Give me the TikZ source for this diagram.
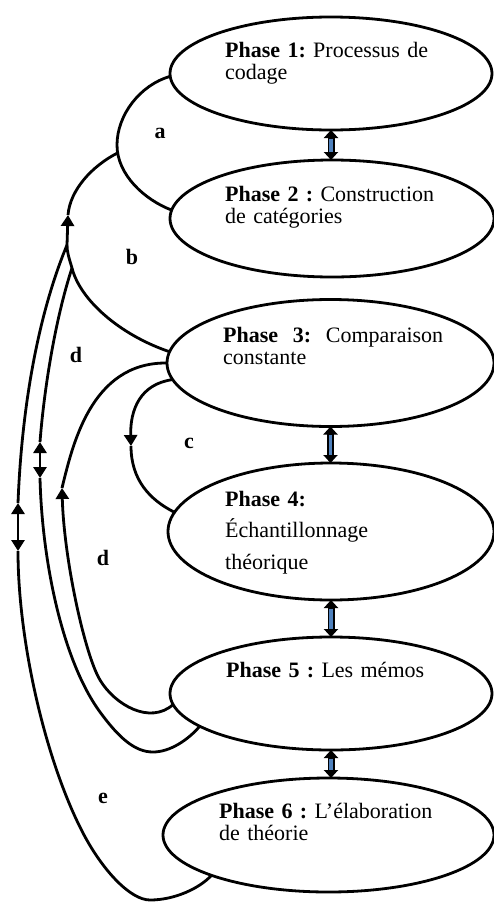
\documentclass[tikz,border=0pt]{standalone}
\usepackage{fontspec}
\setmainfont{Liberation Serif}
\usetikzlibrary{arrows.meta,shapes.geometric}
\definecolor{shaftblue}{RGB}{79,129,189}
\frenchspacing
\begin{document}
\begin{tikzpicture}[x=1pt,y=-1pt,
  phase/.style={draw, ellipse, line width=2.8pt, inner sep=0pt, outer sep=0pt},
  phasetext/.style={anchor=base west, inner sep=0pt, align=left, text width=270pt,
    font=\fontsize{22}{22.5}\selectfont},
  tag/.style={inner sep=0pt, font=\fontsize{22}{22}\selectfont\bfseries},
  link/.style={line width=2.8pt},
  head/.style={-{Triangle[width=13pt,length=11pt]}},
  blockline/.style={line width=7pt, {Triangle[width=14pt,length=8pt]}-{Triangle[width=14pt,length=8pt]}},
  blockfill/.style={line width=3.4pt, shaftblue, shorten <=8.5pt, shorten >=8.5pt}]
\useasboundingbox (0,0) rectangle (494,903);

% the six phases
\node[phase, minimum width=322pt, minimum height=113pt] (e1) at (331,73.5) {};
\node[phase, minimum width=324pt, minimum height=117pt] (e2) at (332,218.5) {};
\node[phase, minimum width=327pt, minimum height=127pt] (e3) at (330.5,363) {};
\node[phase, minimum width=326pt, minimum height=137pt] (e4) at (331,531.5) {};
\node[phase, minimum width=322pt, minimum height=113pt] (e5) at (331,693.5) {};
\node[phase, minimum width=331pt, minimum height=114pt] (e6) at (328.5,835) {};

\node[phasetext] (t1) at (225,57) {\textbf{Phase 1:} Processus de\\codage};
\node[phasetext] (t2) at (225,201) {\textbf{Phase 2 :} Construction\\de catégories};
\node[phasetext] (t3) at (223,342) {\makebox[220pt][l]{\textbf{Phase}\hfill\textbf{3:}\hfill Comparaison}\\constante};
\node[phasetext] (t4) at (225,506) {\textbf{Phase 4:}\\[9pt]Échantillonnage\\[9pt]théorique};
\node[phasetext] (t5) at (226,677) {\textbf{Phase 5 :} Les mémos};
\node[phasetext] (t6) at (219,818) {\textbf{Phase 6 :} L’élaboration\\de théorie};

% block arrows between consecutive phases
\foreach \u/\v in {e1/e2, e3/e4, e4/e5, e5/e6} {
  \draw[blockline] (\u.south) -- (\u.south |- \v.north);
  \draw[blockfill] (\u.south) -- (\u.south |- \v.north);
}

% junctions and arrow positions on the feedback loops
\coordinate (J1) at (117.5,153);
\coordinate (J2) at (67,245);
\coordinate (J3) at (72,268);
\coordinate (tA) at (68,215);
\coordinate (oU) at (18,503);
\coordinate (oM) at (18,527);
\coordinate (oD) at (18,551);
\coordinate (mU) at (40,442);
\coordinate (mM) at (40,460);
\coordinate (mD) at (40,478);
\coordinate (iA) at (62,488);
\coordinate (cA) at (131,446);

% a : phases 1 and 2
\draw[link] (e1.181) .. controls (140,85) and (117,115) .. (117,145)
  .. controls (117,175) and (145,200) .. (e2.177);

% common trunk back to loop a
\draw[link, head] (J2) -- (tA);
\draw[link] (tA) .. controls (70,190) and (92,166) .. (J1);

% b : phase 3 into the trunk
\draw[link] (e3.176) .. controls (120,335) and (80,300) .. (J3)
  .. controls (69,258) and (67,252) .. (J2);

% e : outer loop from phase 6
\draw[link, head] (oM) -- (oU);
\draw[link, head] (oM) -- (oD);
\draw[link] (oU) .. controls (22,400) and (40,310) .. (J2);
\draw[link] (oD) .. controls (18,640) and (45,760) .. (83,833)
  .. controls (102,869.5) and (130,900) .. (150,900)
  .. controls (175,900) and (200,888) .. (e6.199);

% d : middle loop from phase 5
\draw[link, head] (mM) -- (mU);
\draw[link, head] (mM) -- (mD);
\draw[link] (mU) .. controls (44,390) and (55,320) .. (J3);
\draw[link] (mD) .. controls (42,560) and (62,660) .. (100,712)
  .. controls (119,738) and (135,752) .. (153,752)
  .. controls (170,752) and (188,740) .. (e5.194);

% d : inner loop from phase 5 to phase 3
\draw[link, head] (e5.184) .. controls (150,725) and (115,705) .. (100,680)
  .. controls (85,655) and (64,560) .. (iA);
\draw[link] (iA) .. controls (72,448) and (90,362) .. (e3.180);

% c : phase 3 to phase 4
\draw[link, head] (e3.186) .. controls (140,384) and (130,410) .. (cA);
\draw[link] (cA) .. controls (131,480) and (150,500) .. (e4.173);

% loop labels
\node[tag] (la) at (160,133) {a};
\node[tag] (lb) at (132,257) {b};
\node[tag] (ld1) at (76,355) {d};
\node[tag] (lc) at (189,443) {c};
\node[tag] (ld2) at (103,558) {d};
\node[tag] (le) at (103,798) {e};
\end{tikzpicture}
\end{document}
